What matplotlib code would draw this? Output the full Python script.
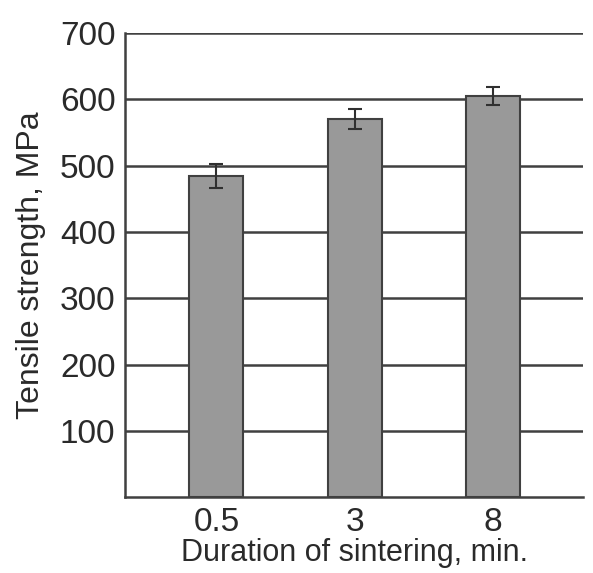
import matplotlib.pyplot as plt

plt.rcParams['font.family'] = ['Liberation Sans', 'DejaVu Sans']

durations = ['0.5', '3', '8']
strength = [484, 571, 605]
errors = [18, 15, 14]
yticks = [100, 200, 300, 400, 500, 600, 700]

fig = plt.figure(figsize=(5.93, 5.73), dpi=100)
ax = fig.add_axes([0.211, 0.1326, 0.772, 0.8094])

ax.bar(range(len(durations)), strength, width=0.39, color='#999999',
       edgecolor='#404040', linewidth=1.5, zorder=3)
ax.errorbar(range(len(durations)), strength, yerr=errors, fmt='none',
            ecolor='#303030', elinewidth=1.5, capsize=5, capthick=1.5, zorder=4)

ax.set_xlim(-0.66, 2.65)
ax.set_ylim(0, 700)
ax.set_yticks(yticks)
ax.set_xticks(range(len(durations)))
ax.set_xticklabels(durations)
ax.yaxis.grid(True, color='#404040', linewidth=1.8, zorder=1)
ax.tick_params(length=0, labelsize=24, colors='#2a2a2a', pad=7)

ax.spines['right'].set_visible(False)
ax.spines['top'].set_visible(False)
for s in ['left', 'bottom']:
    ax.spines[s].set_color('#404040')
    ax.spines[s].set_linewidth(1.8)

ax.set_ylabel('Tensile strength, MPa', fontsize=23, color='#2a2a2a', labelpad=10)
ax.set_xlabel('Duration of sintering, min.', fontsize=22, color='#2a2a2a', labelpad=0)

fig.savefig('out.png', dpi=100)
